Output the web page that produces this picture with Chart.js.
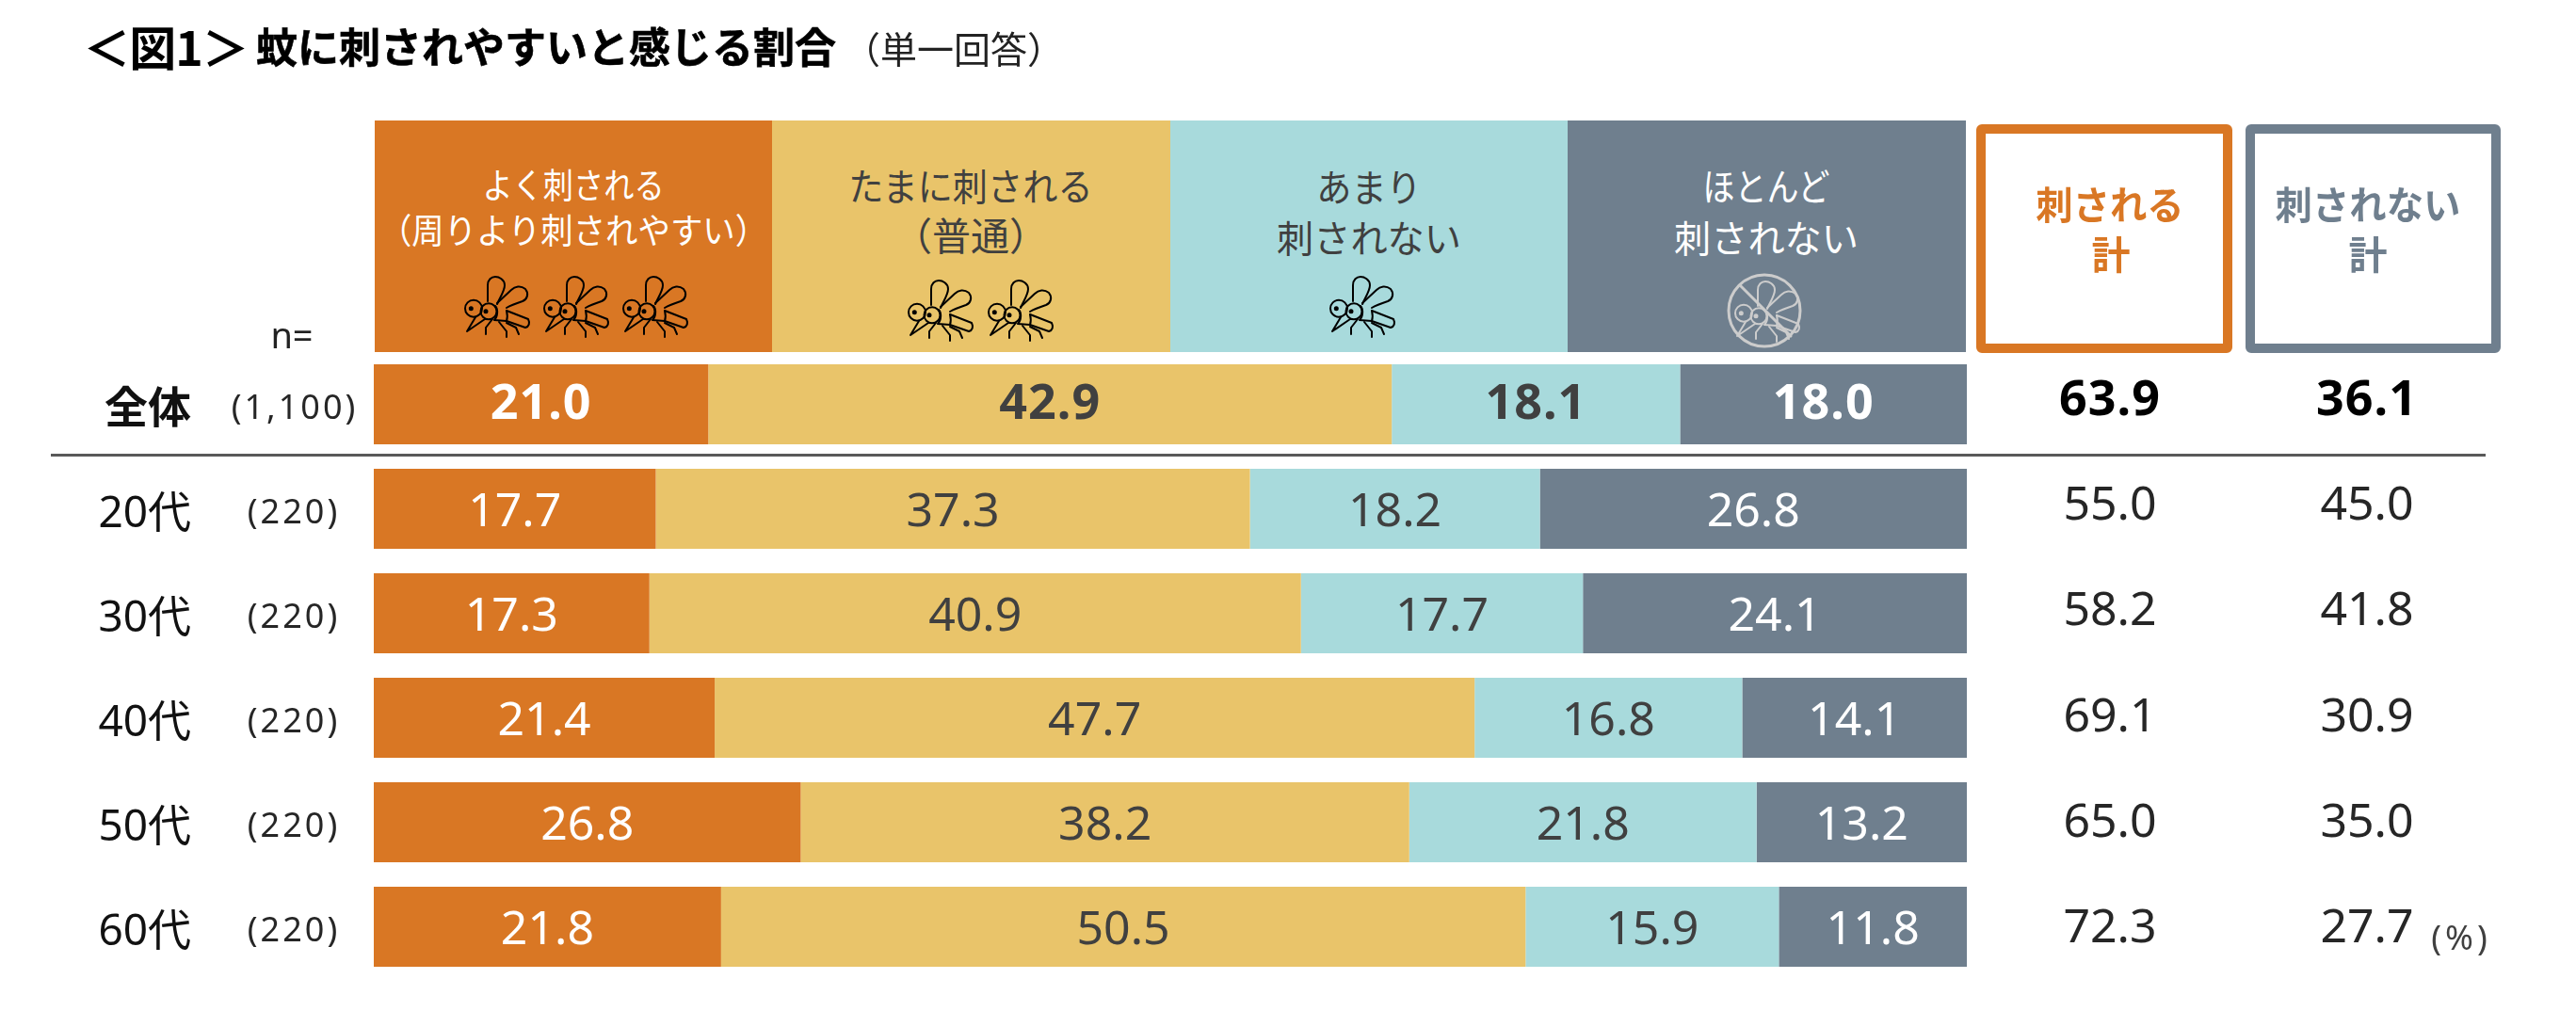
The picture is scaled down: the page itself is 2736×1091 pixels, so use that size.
<!DOCTYPE html>
<html lang="ja"><head><meta charset="utf-8">
<script src="https://cdn.jsdelivr.net/npm/chart.js@4"></script>
<style>
html,body{margin:0;padding:0;background:#fff;width:2736px;height:1091px;overflow:hidden}
body{position:relative;font-family:"Noto Sans","Noto Sans CJK JP",sans-serif}
canvas{position:absolute;left:0;top:0}
.t{position:absolute;white-space:nowrap;line-height:1;font-family:"Noto Sans CJK JP","Noto Sans",sans-serif}
.cell{position:absolute;top:128px;height:246px;width:423px}
.box{position:absolute;top:132px;height:243px;box-sizing:border-box;border:10px solid;border-radius:6px;background:#fff}
.rule{position:absolute;left:54px;top:482px;width:2586px;height:3px;background:#595959}
svg.m{position:absolute;overflow:visible;fill:none;stroke-linejoin:round;stroke-linecap:round}
</style></head><body>
<svg width="0" height="0" style="position:absolute"><defs>
<g id="mq">
<circle cx="10" cy="33.7" r="9"/><circle cx="26" cy="36.7" r="8.5"/>
<path d="M25 26V9C25 3 29 0 33 0S43 3 43 9C43 15 38 22 35 29"/>
<path d="M35 28L50 14C54 10 60 9 65 13C69 18 67 24 62 26C56 28 50 30 45 33"/>
<path d="M33 31C36 34 36 42 32 46L45 47L65 54C69 53 70 49 68 45L45 36"/>
<path d="M45 36C46 40 46 44 45 47"/>
<path d="M12 43L3 58L22 45"/>
<path d="M30 45L23 54V61M37 48L45 58V64M45 49L55 54L58 61"/>
</g>
<g id="dot"><circle cx="7.3" cy="33.7" r="1.5" fill="currentColor"/><circle cx="23" cy="36.7" r="1.5" fill="currentColor"/></g>
</defs></svg>
<canvas id="c" width="2736" height="1091"></canvas>
<div id="o"></div>
<script>
const categories = ['全体','20代','30代','40代','50代','60代'];
const sampleSizes = ['(1,100)','(220)','(220)','(220)','(220)','(220)'];
const seriesNames = ['よく刺される','たまに刺される','あまり刺されない','ほとんど刺されない'];
const often = [21.0,17.7,17.3,21.4,26.8,21.8];
const sometimes = [42.9,37.3,40.9,47.7,38.2,50.5];
const rarely = [18.1,18.2,17.7,16.8,21.8,15.9];
const hardly = [18.0,26.8,24.1,14.1,13.2,11.8];
const totalBitten = [63.9,55.0,58.2,69.1,65.0,72.3];
const totalNotBitten = [36.1,45.0,41.8,30.9,35.0,27.7];
const colors = ['#D97724','#E9C46A','#A8DADC','#6F7F8E'];
const labelColors = ['#FFFFFF','#404040','#404040','#FFFFFF'];
const NF = '"Noto Sans","Noto Sans CJK JP",sans-serif';

const valueLabels = {id:'valueLabels',afterDatasetsDraw(ch){
  const g=ch.ctx, y=ch.scales.y; g.save(); g.textAlign='center'; g.textBaseline='middle';
  ch.data.datasets.forEach((ds,di)=>{
    ch.getDatasetMeta(di).data.forEach((b,i)=>{
      g.fillStyle=labelColors[di];
      g.font=(i===0?'bold 52px ':'50px ')+NF;
      g.letterSpacing=i===0?'1px':'0px';
      g.fillText(ds.data[i].toFixed(1),(b.x+b.base)/2,b.y+(i===0?1:4));
    });
  });
  categories.forEach((c,i)=>{
    const yy=y.getPixelForValue(i);
    g.fillStyle=i===0?'#000':'#262626';
    g.font=(i===0?'bold 52px ':'50px ')+NF;
    g.letterSpacing=i===0?'1px':'0px';
    const dy=i===0?-3:-2.6+(i-1)*1.25;
    g.fillText(totalBitten[i].toFixed(1),2241,yy+dy);
    g.fillText(totalNotBitten[i].toFixed(1),2514,yy+dy);
    g.fillStyle='#262626';
    g.font='36px '+NF; g.letterSpacing='3px';
    g.fillText(sampleSizes[i],i===0?313:312,yy+5);
    g.letterSpacing='0px';
  });
  g.restore();
}};

new Chart(document.getElementById('c'),{
  type:'bar',
  data:{labels:categories,datasets:[often,sometimes,rarely,hardly].map((d,i)=>({
    label:seriesNames[i],data:d,backgroundColor:colors[i],borderWidth:0,
    categoryPercentage:1,barPercentage:0.766,stack:'a'}))},
  options:{
    indexAxis:'y',responsive:false,animation:false,devicePixelRatio:1,
    layout:{padding:{top:374,bottom:51,right:647,left:0}},
    plugins:{legend:{display:false},tooltip:{enabled:false}},
    scales:{
      x:{display:false,stacked:true,min:0,max:100},
      y:{stacked:true,border:{display:false},grid:{display:false,drawTicks:false},
         afterFit(s){s.width=397;s.paddingTop=0;s.paddingBottom=0;},
         ticks:{padding:194,autoSkip:false,color:'#111',labelOffset:6,
           font:c=>({family:NF,size:46,weight:c.index===0?'bold':'normal'})}}
    }
  },
  plugins:[valueLabels]
});

const o=document.getElementById('o');
function T(s,x,y,size,color,bold,sx,extra){
  const d=document.createElement('div');d.className='t';d.textContent=s;
  d.style.cssText=`left:${x}px;top:${y}px;font-size:${size}px;color:${color};font-weight:${bold?700:400};transform:translate(-50%,-50%) scaleX(${sx||1});${extra||''}`;
  o.appendChild(d);
}
function cell(x,c){const d=document.createElement('div');d.className='cell';d.style.left=x+'px';d.style.background=c;o.appendChild(d);}
[398,820,1243,1665].forEach((x,i)=>cell(x,colors[i]));
const r=document.createElement('div');r.className='rule';o.appendChild(r);
[[2099,272,colors[0]],[2385,271,colors[3]]].forEach(b=>{
  const d=document.createElement('div');d.className='box';
  d.style.left=b[0]+'px';d.style.width=b[1]+'px';d.style.borderColor=b[2];o.appendChild(d);
});
T('＜図1＞',176,48,50,'#000',true,1,'letter-spacing:-1px');
T('蚊に刺されやすいと感じる割合',580,48,44,'#000',true,1,'-webkit-text-stroke:0.6px #000');
T('（単一回答）',1013,50,39,'#222',false);
T('n=',310,355,38,'#222',false,1,'font-family:'+NF);
T('よく刺される',609,195,37,'#fff',false,0.87);
T('（周りより刺されやすい）',609,243,37,'#fff',false,0.93);
T('たまに刺される',1031,196,40,'#404040',false,0.93);
T('（普通）',1031,248,41,'#404040');
T('あまり',1454,197,40,'#404040',false,0.93);
T('刺されない',1454,251,40,'#404040',false,0.98);
T('ほとんど',1876,196,40,'#fff',false,0.85);
T('刺されない',1876,251,40,'#fff',false,0.98);
T('刺される',2241,215,41,colors[0],true,0.96);
T('計',2242,268,41,colors[0],true);
T('刺されない',2515,215,41,colors[3],true,0.96);
T('計',2515,268,41,colors[3],true);
T('(%)',2614,996,36,'#404040',false,1,'font-family:'+NF+';letter-spacing:4px');

function mosquito(x,y,stroke){
  const ns='http://www.w3.org/2000/svg';
  const s=document.createElementNS(ns,'svg');s.setAttribute('class','m');
  s.setAttribute('width',70);s.setAttribute('height',65);s.setAttribute('viewBox','0 0 70 65');
  s.style.left=x+'px';s.style.top=y+'px';s.style.stroke=stroke;s.style.strokeWidth='2';s.style.color=stroke;
  ['#mq','#dot'].forEach(h=>{const u=document.createElementNS(ns,'use');u.setAttribute('href',h);s.appendChild(u);});
  o.appendChild(s);return s;
}
[[493,294],[577,294],[661,294],[964,298],[1049,298],[1412,294]].forEach(p=>mosquito(p[0],p[1],'#000'));
const gs=mosquito(1842,299,'#CCCCCC');
gs.innerHTML+='<circle cx="32" cy="31" r="38" stroke-width="3"/><path d="M6 4L60 58" stroke-width="3"/>';
</script>
</body></html>
